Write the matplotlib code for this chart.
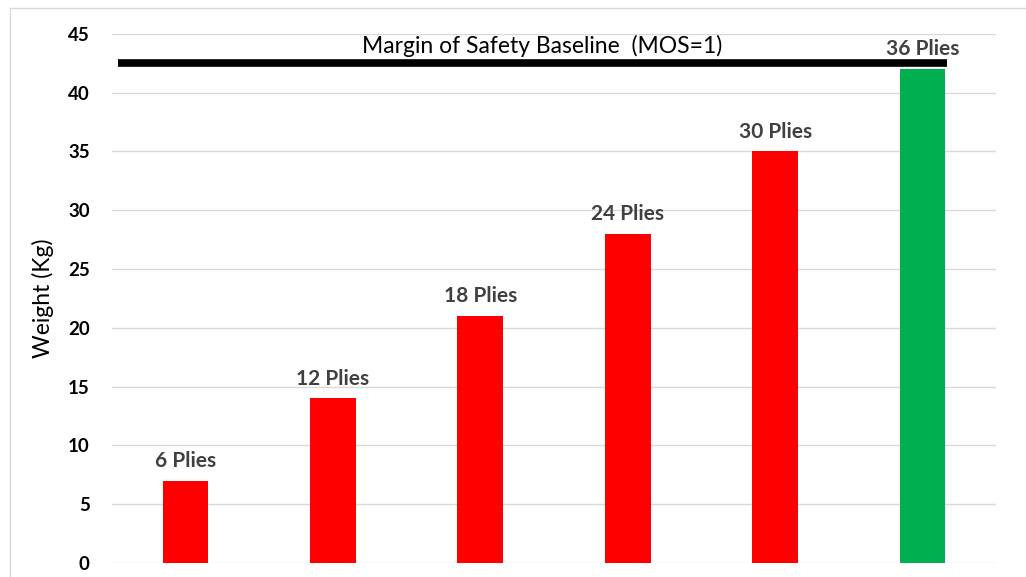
#
########################################################################
# Bibliotecas
########################################################################
#
import matplotlib
matplotlib.use("Agg")
import matplotlib.pyplot as plt
from matplotlib.patches import Rectangle

#
########################################################################
# Dados
########################################################################
#
rotulos = ["6 Plies", "12 Plies", "18 Plies", "24 Plies", "30 Plies", "36 Plies"]
pesos = [7, 14, 21, 28, 35, 42]
cores = ["#ff0000", "#ff0000", "#ff0000", "#ff0000", "#ff0000", "#00b050"]
linhaBase = 42.5
textoBase = "Margin of Safety Baseline  (MOS=1)"
yTicks = [0, 5, 10, 15, 20, 25, 30, 35, 40, 45]

#
########################################################################
# Figura
########################################################################
#
plt.rcParams["font.family"] = ["Lato", "DejaVu Sans"]

fig = plt.figure(figsize=(10.26, 5.77), dpi=100)
ax = fig.add_axes([0.109, 0.0243, 0.862, 0.917])

x = list(range(len(pesos)))
ax.bar(x, pesos, width=0.31, color=cores, zorder=3)

for xi, yi, r in zip(x, pesos, rotulos):
    ax.annotate(r, (xi, yi), xytext=(0, 7), textcoords="offset points",
                ha="center", va="bottom", fontsize=15, fontweight="bold",
                color="#404040", zorder=4)

# linha do MOS
ax.plot([-0.458, 5.165], [linhaBase, linhaBase], color="black", lw=5.5,
        solid_capstyle="butt", zorder=5)
ax.text(2.42, linhaBase + 1.45, textoBase, ha="center", va="center",
        fontsize=16.5, color="black")

ax.set_xlim(-0.5, len(pesos) - 0.5)
ax.set_ylim(0, 45)
ax.set_yticks(yTicks)
ax.set_yticklabels([str(v) for v in yTicks], fontsize=13.5, fontweight="bold")
ax.set_xticks([])
ax.tick_params(axis="y", length=0, pad=16)
ax.grid(axis="y", color="#d9d9d9", lw=1, zorder=0)
for s in ax.spines.values():
    s.set_visible(False)
ax.set_ylabel("Weight (Kg)", fontsize=16.5, labelpad=10)

# moldura da figura
fig.patches.append(Rectangle((10 / 1026, -0.1), 1.2, 1 - 8 / 577 + 0.1,
                             transform=fig.transFigure, fill=False,
                             edgecolor="#d9d9d9", lw=1))

fig.savefig("out.png", dpi=100)
